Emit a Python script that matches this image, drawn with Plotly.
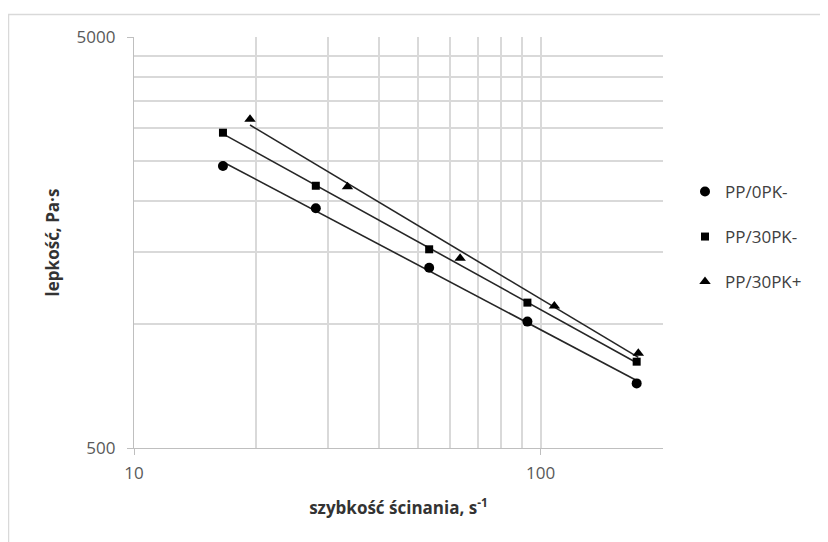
import numpy as np
import plotly.graph_objects as go

# ---- data ----
series_names = ["PP/0PK-", "PP/30PK-", "PP/30PK+"]
shear_0pk = [16.55, 28.0, 53.2, 92.8, 172.3]
visc_0pk = [2428, 1915, 1373, 1015, 718]
shear_30pk_minus = [16.55, 28.0, 53.2, 92.8, 172.3]
visc_30pk_minus = [2925, 2173, 1522, 1129, 811]
shear_30pk_plus = [19.29, 33.5, 63.4, 108.1, 173.9]
visc_30pk_plus = [3153, 2161, 1447, 1108, 850]

x_major_ticks = [10, 100]
x_minor_ticks = [20, 30, 40, 50, 60, 70, 80, 90, 200]
y_major_ticks = [500, 5000]
y_minor_ticks = [1000, 1500, 2000, 2500, 3000, 3500, 4000, 4500]

x_title = "szybkość ścinania, s<sup>-1</sup>"
y_title = "lepkość, Pa·s"

# ---- styling ----
FONT = "Open Sans"
GRID = "#d9d9d9"
AXIS = "#bfbfbf"
LINE = "#262626"
symbols = ["circle", "square", "triangle-up"]
sizes = [10, 8, 10]
legend_ids = ["legend", "legend2", "legend3"]

series = [
    (shear_0pk, visc_0pk),
    (shear_30pk_minus, visc_30pk_minus),
    (shear_30pk_plus, visc_30pk_plus),
]

fig = go.Figure()

for i, (xs, ys) in enumerate(series):
    # power trend line (least squares in log-log space), drawn over data range
    lx, ly = np.log10(xs), np.log10(ys)
    b, a = np.polyfit(lx, ly, 1)
    xt = [min(xs), max(xs)]
    yt = [10 ** (a + b * np.log10(v)) for v in xt]
    fig.add_trace(go.Scatter(
        x=xt, y=yt, mode="lines",
        line=dict(color=LINE, width=1.6),
        showlegend=False, hoverinfo="skip",
    ))

for i, (xs, ys) in enumerate(series):
    fig.add_trace(go.Scatter(
        x=xs, y=ys, mode="markers", name=series_names[i],
        marker=dict(symbol=symbols[i], size=sizes[i], color="black",
                    line=dict(width=0)),
        legend=legend_ids[i],
    ))

# the page body adds an 8px offset; figure is sized/margined to compensate
OFF = 8
W, H = 828 - OFF, 542 - OFF
L, T = 134 - OFF, 37 - OFF
R, B = 165, 94
pw, ph = W - L - R, H - T - B


def px_to_paper_x(px):  # px in window coordinates
    return (px - OFF - L) / pw


def px_to_paper_y(py):
    return (H - B - (py - OFF)) / ph


legend_common = dict(
    xanchor="left", yanchor="middle",
    font=dict(family=FONT, size=17, color="#404040"),
    bgcolor="rgba(0,0,0,0)", borderwidth=0,
)
legend_rows = [192, 237, 282]
layout_legends = {}
for lid, row in zip(legend_ids, legend_rows):
    layout_legends[lid] = dict(x=px_to_paper_x(685), y=px_to_paper_y(row),
                               **legend_common)

fig.update_layout(
    width=W, height=H,
    margin=dict(l=L, r=R, t=T, b=B, autoexpand=False),
    paper_bgcolor="white", plot_bgcolor="white",
    font=dict(family=FONT, color="#595959"),
    **layout_legends,
)

fig.update_xaxes(
    type="log", range=[np.log10(10), np.log10(200)],
    tickvals=x_major_ticks, ticktext=[str(v) for v in x_major_ticks],
    ticks="outside", ticklen=6, tickcolor=AXIS, tickwidth=1,
    tickfont=dict(family=FONT, size=17, color="#595959"),
    ticklabelstandoff=3,
    showgrid=True, gridcolor=GRID, gridwidth=1.5,
    minor=dict(tickvals=x_minor_ticks, showgrid=True, gridcolor=GRID,
               gridwidth=1.5, ticks=""),
    showline=True, linecolor=AXIS, linewidth=1.2,
    zeroline=False, mirror=False,
    title=dict(text=x_title, standoff=19,
               font=dict(family=FONT, size=17, color="#333333", weight="bold")),
)

fig.update_yaxes(
    type="log", range=[np.log10(500), np.log10(5000)],
    tickvals=y_major_ticks, ticktext=[str(v) for v in y_major_ticks],
    ticks="outside", ticklen=6, tickcolor=AXIS, tickwidth=1,
    tickfont=dict(family=FONT, size=17, color="#595959"),
    ticklabelstandoff=8,
    showgrid=True, gridcolor=GRID, gridwidth=1.5,
    minor=dict(tickvals=y_minor_ticks, showgrid=True, gridcolor=GRID,
               gridwidth=1.5, ticks=""),
    showline=True, linecolor=AXIS, linewidth=1.2,
    zeroline=False, mirror=False,
    title=dict(text=y_title, standoff=12,
               font=dict(family=FONT, size=17, color="#333333", weight="bold")),
)

# outer chart-area border (only its left and top edges fall inside the picture)
fig.add_shape(
    type="rect", xref="paper", yref="paper",
    x0=px_to_paper_x(8.5), x1=px_to_paper_x(828 + 20),
    y0=px_to_paper_y(542 + 20), y1=px_to_paper_y(14.5),
    line=dict(color="#d9d9d9", width=1.5), fillcolor="rgba(0,0,0,0)",
    layer="below",
)

fig.write_html("out.html")
